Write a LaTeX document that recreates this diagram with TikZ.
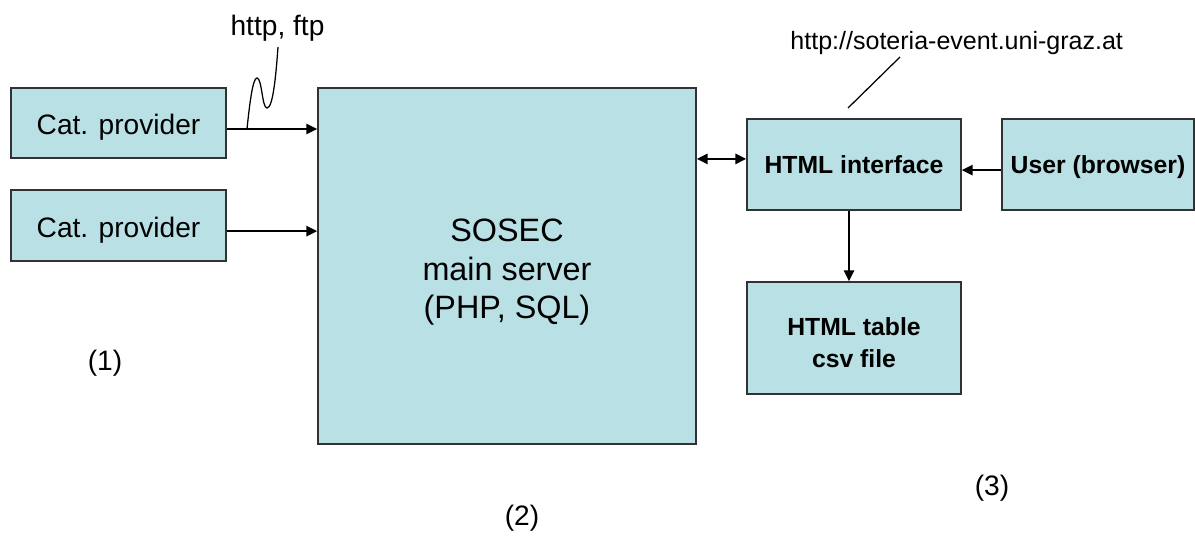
\documentclass[tikz,border=0pt]{standalone}
\usepackage{fontspec}
\setmainfont{Liberation Sans}
\usetikzlibrary{arrows.meta}
\definecolor{boxfill}{RGB}{185,224,228}
\definecolor{boxline}{RGB}{50,50,50}
\newcommand{\lowertxt}[2]{\raisebox{-#1}[\height][\depth]{\begin{tabular}{@{}c@{}}#2\end{tabular}}}
\tikzset{
  box/.style={draw=boxline, line width=1.2pt, fill=boxfill, inner sep=0pt, align=center},
  conn/.style={line width=1.3pt, -{Triangle[length=0.27cm,width=0.26cm]}},
  dconn/.style={line width=1.3pt, {Triangle[length=0.27cm,width=0.26cm]}-{Triangle[length=0.27cm,width=0.26cm]}},
  thin/.style={line width=0.9pt},
  lbl/.style={inner sep=0pt, anchor=base},
}
\begin{document}
\begin{tikzpicture}[x=0.025cm,y=-0.025cm]
\useasboundingbox (0,0) rectangle (1195,535);
\node[box, minimum width=5.375cm, minimum height=1.75cm, font=\fontsize{20}{24}\selectfont] (cat1) at (118.5,123) {\lowertxt{3.5pt}{Cat. provider}};
\node[box, minimum width=5.375cm, minimum height=1.775cm, font=\fontsize{20}{24}\selectfont] (cat2) at (118.5,225.5) {\lowertxt{3.5pt}{Cat. provider}};
\node[box, minimum width=9.45cm, minimum height=8.9cm, font=\fontsize{23}{27.5}\selectfont] (main) at (507,266) {\lowertxt{4.5pt}{SOSEC\\main server\\(PHP, SQL)}};
\node[box, minimum width=5.35cm, minimum height=2.275cm, font=\bfseries\fontsize{17.6}{21}\selectfont] (html) at (854,164.5) {\lowertxt{2.5pt}{HTML interface}};
\node[box, minimum width=4.8cm, minimum height=2.275cm, font=\bfseries\fontsize{17.6}{21}\selectfont] (user) at (1098,164.5) {\lowertxt{2.5pt}{User (browser)}};
\node[box, minimum width=5.35cm, minimum height=2.8cm, font=\bfseries\fontsize{17.6}{23}\selectfont] (table) at (854,338) {\lowertxt{5pt}{HTML table\\csv file}};

\draw[conn] ([yshift=-0.15cm]cat1.east) -- ([yshift=-0.15cm]cat1.east -| main.west);
\draw[conn] ([yshift=-0.14cm]cat2.east) -- ([yshift=-0.14cm]cat2.east -| main.west);
\draw[dconn] ([yshift=0.14cm]main.east |- html.west) -- ([yshift=0.14cm]html.west);
\draw[conn] ([yshift=-0.14cm]user.west) -- ([yshift=-0.14cm]user.west -| html.east);
\draw[conn] ([xshift=-0.125cm]html.south) -- ([xshift=-0.125cm]table.north);

\node[lbl, font=\fontsize{20}{24}\selectfont] (proto) at (277.5,35) {http, ftp};
\coordinate (w0) at (247,129);
\coordinate (w1) at (278,47);
\draw[thin] (w0) .. controls (250,100) and (253,78) .. (257,78) .. controls (262,78) and (262,108) .. (267,108) .. controls (273,108) and (276,75) .. (w1);

\node[lbl, font=\fontsize{17.8}{21}\selectfont] (url) at (956.7,49) {http://soteria-event.uni-graz.at};
\coordinate (u0) at (848,108);
\coordinate (u1) at (900,57);
\draw[thin] (u0) -- (u1);

\node[lbl, font=\fontsize{20}{24}\selectfont] (n1) at (105,370) {(1)};
\node[lbl, font=\fontsize{20}{24}\selectfont] (n2) at (522,525) {(2)};
\node[lbl, font=\fontsize{20}{24}\selectfont] (n3) at (992,495) {(3)};
\end{tikzpicture}
\end{document}
